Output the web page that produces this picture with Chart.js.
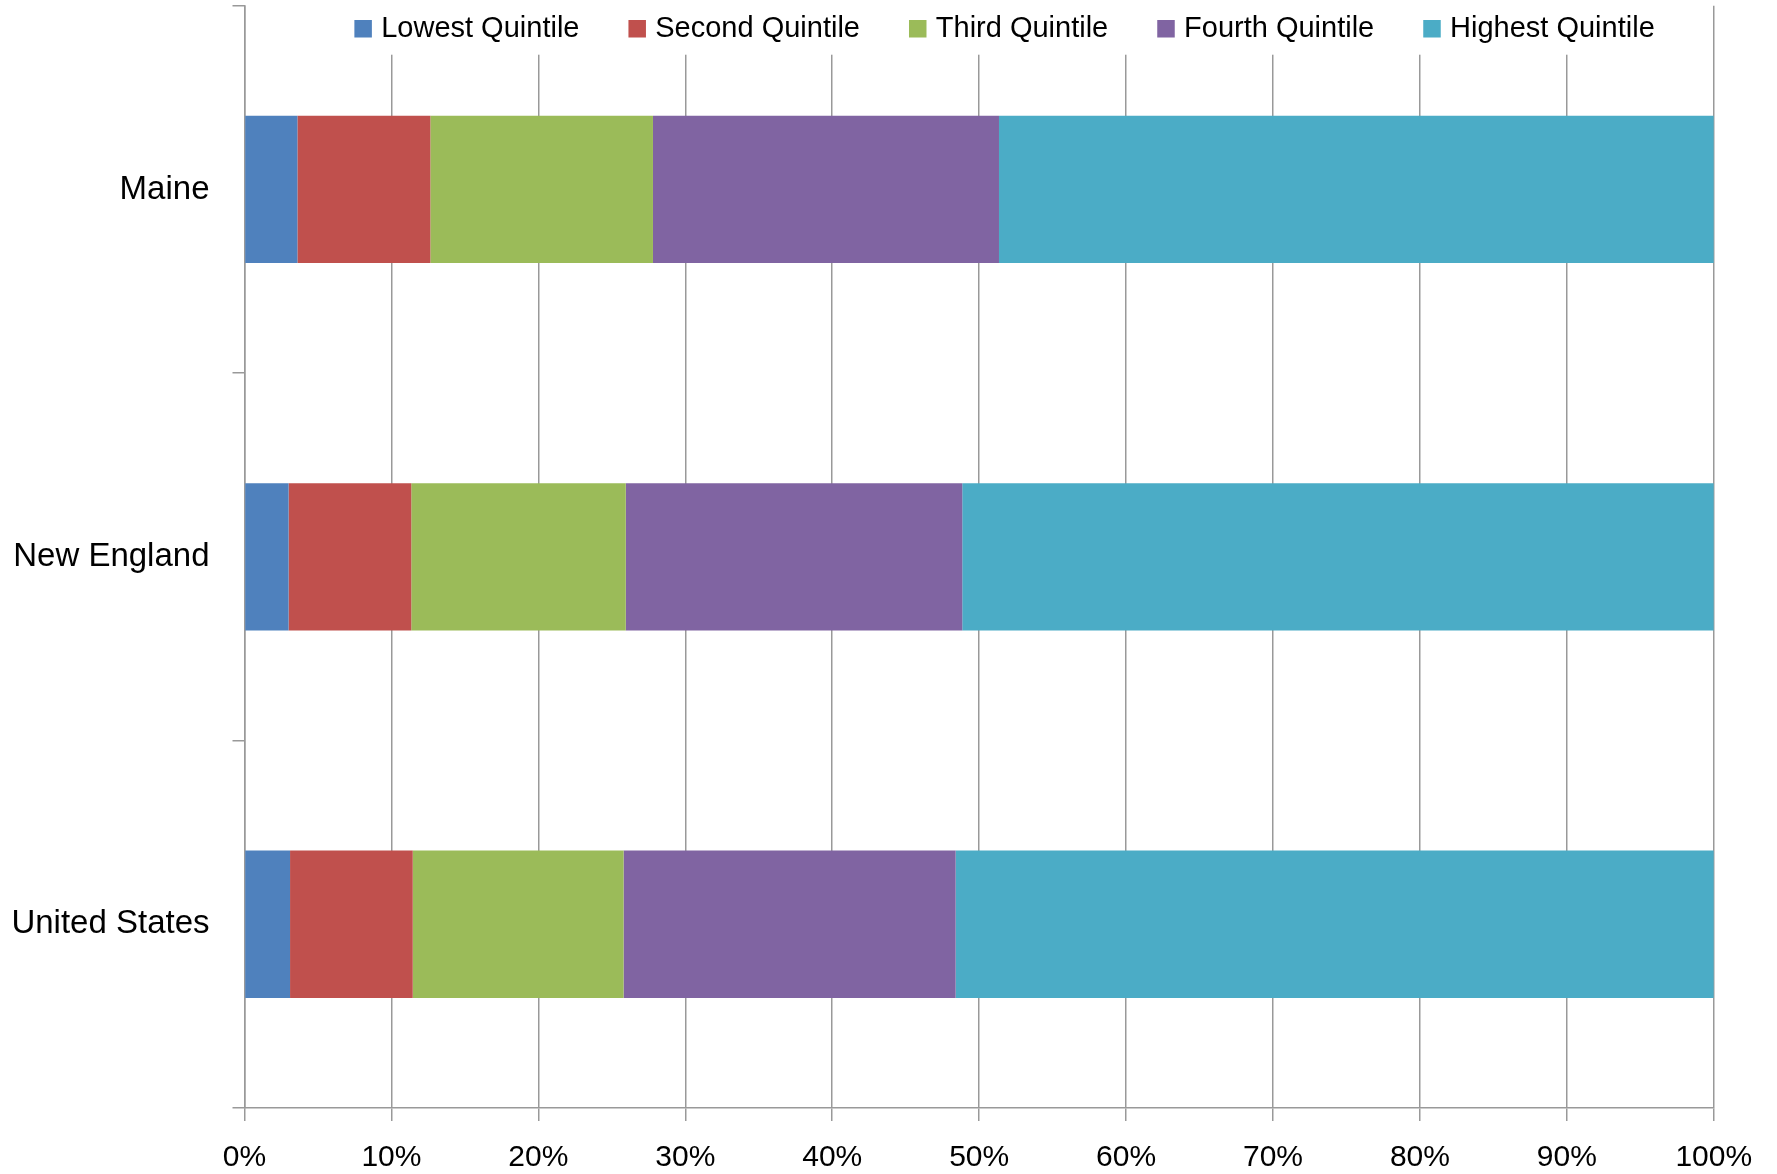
<!DOCTYPE html>
<html>
<head>
<meta charset="utf-8">
<script src="https://cdn.jsdelivr.net/npm/chart.js@4.4.1/dist/chart.umd.min.js"></script>
<style>
  html, body { margin: 0; padding: 0; background: #ffffff; }
  #wrap { width: 1777px; height: 1174px; }
</style>
</head>
<body>
<div id="wrap"><canvas id="c" width="1777" height="1174"></canvas></div>
<script>
// ---- data ----
const categories = ['Maine', 'New England', 'United States'];
const seriesNames = ['Lowest Quintile', 'Second Quintile', 'Third Quintile', 'Fourth Quintile', 'Highest Quintile'];
const lowestQuintile  = [3.6, 3.0, 3.1];
const secondQuintile  = [9.05, 8.35, 8.35];
const thirdQuintile   = [15.15, 14.6, 14.35];
const fourthQuintile  = [23.55, 22.9, 22.6];
const highestQuintile = [48.65, 51.15, 51.6];
const seriesColors = ['#4F81BD', '#C0504D', '#9BBB59', '#8064A2', '#4BACC6'];
const tickSuffix = '%';

const seriesValues = [lowestQuintile, secondQuintile, thirdQuintile, fourthQuintile, highestQuintile];
const FONT = '"Liberation Sans", Arial, sans-serif';
const GRID = '#999999';

// legend drawn inside the plot area, over a white background (like the original)
const quintileLegend = {
  id: 'quintileLegend',
  beforeDatasetsDraw(chart) {
    const ctx = chart.ctx, ca = chart.chartArea;
    ctx.save();
    ctx.font = '29px ' + FONT;
    const box = 17.5, gap = 9.3, spacing = 49;
    const items = chart.data.datasets.map(ds => ({
      text: ds.label, color: ds.backgroundColor, w: ctx.measureText(ds.label).width
    }));
    const total = items.reduce((s, it) => s + box + gap + it.w, 0) + spacing * (items.length - 1);
    const cx = ca.left + ca.width * 0.5173;
    let x = cx - total / 2;
    ctx.fillStyle = '#ffffff';
    ctx.fillRect(x - 14, ca.top - 3, total + 28, 52);
    items.forEach(it => {
      ctx.fillStyle = it.color;
      ctx.fillRect(x, ca.top + 14.3, box, box);
      ctx.fillStyle = '#000000';
      ctx.textBaseline = 'alphabetic';
      ctx.textAlign = 'left';
      ctx.fillText(it.text, x + box + gap, ca.top + 31);
      x += box + gap + it.w + spacing;
    });
    ctx.restore();
  }
};

new Chart(document.getElementById('c'), {
  type: 'bar',
  data: {
    labels: categories,
    datasets: seriesNames.map((name, i) => ({
      label: name,
      data: seriesValues[i],
      backgroundColor: seriesColors[i],
      borderWidth: 0
    }))
  },
  options: {
    indexAxis: 'y',
    responsive: false,
    animation: false,
    devicePixelRatio: 1,
    layout: { padding: { top: 5.7, right: 63.2, bottom: 0, left: 0 } },
    plugins: { legend: { display: false }, tooltip: { enabled: false } },
    datasets: { bar: { categoryPercentage: 1, barPercentage: 0.401 } },
    scales: {
      x: {
        stacked: true,
        min: 0,
        max: 100,
        ticks: {
          stepSize: 10,
          callback: v => v + tickSuffix,
          font: { family: FONT, size: 30 },
          color: '#000000',
          padding: 19,
          maxRotation: 0,
          autoSkip: false
        },
        grid: { color: GRID, lineWidth: 1.5, tickLength: 13, drawTicks: true },
        border: { display: true, color: GRID, width: 1.5 },
        afterFit: s => { s.height = 66; s.paddingLeft = 0; s.paddingRight = 0; }
      },
      y: {
        stacked: true,
        ticks: {
          font: { family: FONT, size: 33 },
          color: '#000000',
          padding: 23
        },
        grid: { offset: true, drawOnChartArea: false, drawTicks: true, tickLength: 12, color: GRID, lineWidth: 1.5 },
        border: { display: true, color: GRID, width: 1.5 },
        afterFit: s => { s.width = 244.5; s.paddingTop = 0; s.paddingBottom = 0; }
      }
    }
  },
  plugins: [quintileLegend]
});
</script>
</body>
</html>
